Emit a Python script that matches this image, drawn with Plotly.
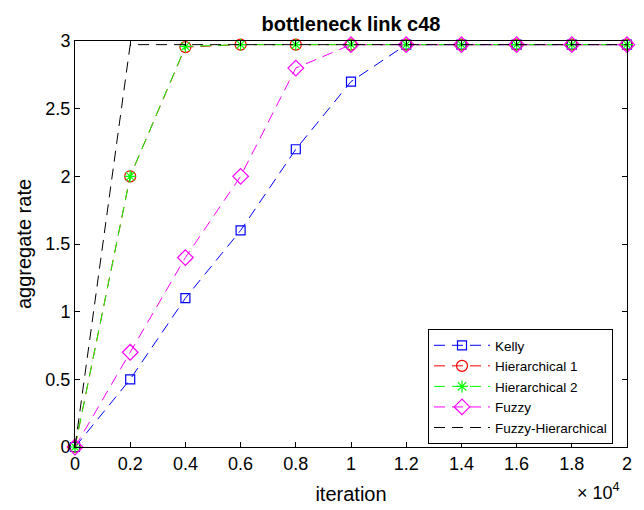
import plotly.graph_objects as go

iterations = [0, 2000, 4000, 6000, 8000, 10000, 12000, 14000, 16000, 18000, 20000]
kelly = [0, 0.5, 1.1, 1.6, 2.2, 2.7, 2.973, 2.973, 2.973, 2.973, 2.973]
hier1 = [0, 2.0, 2.955, 2.973, 2.973, 2.973, 2.973, 2.973, 2.973, 2.973, 2.973]
hier2 = [0, 2.0, 2.96, 2.973, 2.973, 2.973, 2.973, 2.973, 2.973, 2.973, 2.973]
fuzzy = [0, 0.7, 1.4, 2.0, 2.8, 2.973, 2.973, 2.973, 2.973, 2.973, 2.973]
fuzzy_hier = [0, 2.973, 2.973, 2.973, 2.973, 2.973, 2.973, 2.973, 2.973, 2.973, 2.973]

x_tickvals = [0, 2000, 4000, 6000, 8000, 10000, 12000, 14000, 16000, 18000, 20000]
x_ticktext = ["0", "0.2", "0.4", "0.6", "0.8", "1", "1.2", "1.4", "1.6", "1.8", "2"]
y_tickvals = [0, 0.5, 1, 1.5, 2, 2.5, 3]
y_ticktext = ["0", "0.5", "1", "1.5", "2", "2.5", "3"]

font_family = "Liberation Sans, Arial, sans-serif"
dash = "11px,7px"

series = [
    ("Kelly", kelly, "#0000ff", "square-open", 9),
    ("Hierarchical 1", hier1, "#ff0000", "circle-open", 11),
    ("Hierarchical 2", hier2, "#00ff00", "asterisk-open", 10),
    ("Fuzzy", fuzzy, "#ff00ff", "diamond-open", 12),
]

fig = go.Figure()
for name, vals, color, sym, size in series:
    fig.add_trace(go.Scatter(
        x=iterations, y=vals, name=name, mode="lines+markers",
        line=dict(color=color, width=1, dash=dash),
        marker=dict(symbol=sym, size=size, color=color, line=dict(width=1.2, color=color)),
        cliponaxis=False,
    ))
fig.add_trace(go.Scatter(
    x=iterations, y=fuzzy_hier, name="Fuzzy-Hierarchical", mode="lines",
    line=dict(color="#000000", width=1, dash=dash),
    cliponaxis=False,
))

fig.update_layout(
    width=644, height=510,
    margin=dict(l=75, r=17, t=41, b=63, autoexpand=False),
    paper_bgcolor="white", plot_bgcolor="white",
    font=dict(family=font_family, size=18, color="black"),
    title=dict(text="<b>bottleneck link c48</b>", x=0.5, xanchor="center", xref="paper",
               y=1, yref="paper", yanchor="bottom", pad=dict(b=10),
               font=dict(size=20, family=font_family)),
    showlegend=True,
    legend=dict(x=0.6395, y=0.2906, xanchor="left", yanchor="top",
                bgcolor="white", bordercolor="black", borderwidth=1,
                font=dict(size=13.5, family=font_family), tracegroupgap=0,
                itemwidth=56),
)
fig.update_xaxes(
    range=[0, 20000], tickvals=x_tickvals, ticktext=x_ticktext,
    showgrid=False, zeroline=False, showline=True, linecolor="black", linewidth=1,
    mirror="ticks", ticks="inside", ticklen=5, tickcolor="black",
    title=dict(text="iteration", font=dict(size=20), standoff=14),
    tickfont=dict(size=18), automargin=False,
)
fig.update_yaxes(
    range=[0, 3], tickvals=y_tickvals, ticktext=y_ticktext,
    showgrid=False, zeroline=False, showline=True, linecolor="black", linewidth=1,
    mirror="ticks", ticks="inside", ticklen=5, tickcolor="black",
    title=dict(text="aggregate rate", font=dict(size=20), standoff=8),
    tickfont=dict(size=18), automargin=False,
)
fig.add_annotation(
    text="\u00d7 10<sup>4</sup>", xref="paper", yref="paper", x=0.991, y=-0.076,
    xanchor="right", yanchor="top", showarrow=False, font=dict(size=18, family=font_family),
)

fig.write_html("out.html", post_script="document.body.style.margin='0px';",
               config={"displayModeBar": False})
